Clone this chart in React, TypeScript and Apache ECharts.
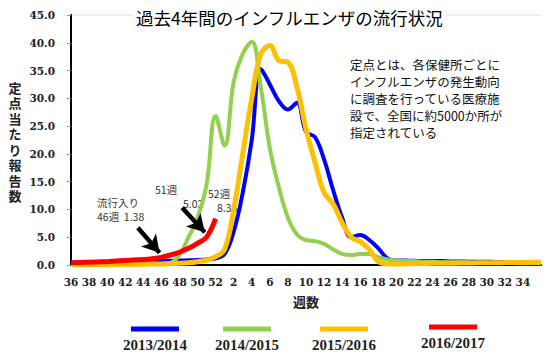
import React, { useEffect, useRef } from 'react';
import * as echarts from 'echarts';

const weeks = [
  '36', '37', '38', '39', '40', '41', '42', '43', '44', '45', '46', '47', '48', '49', '50', '51', '52',
  '1', '2', '3', '4', '5', '6', '7', '8', '9', '10', '11', '12', '13', '14', '15', '16', '17', '18', '19',
  '20', '21', '22', '23', '24', '25', '26', '27', '28', '29', '30', '31', '32', '33', '34', '35', '36',
];

const season1314 = [
  0.3, 0.3, 0.35, 0.4, 0.4, 0.45, 0.5, 0.55, 0.6, 0.65, 0.7, 0.75, 0.8, 0.85, 0.9, 1.0, 1.2,
  2.0, 6.0, 13.0, 22.5, 35.3, 32.5, 29.5, 28.0, 29.2, 24.0, 23.0, 19.0, 13.5, 8.5, 5.0, 5.4, 4.5, 3.0, 1.2,
  0.8, 0.8, 0.75, 0.7, 0.7, 0.7, 0.65, 0.65, 0.6, 0.6, 0.6, 0.55, 0.55, 0.5, 0.5, 0.5, 0.5,
];

const season1415 = [
  0.1, 0.1, 0.1, 0.1, 0.1, 0.1, 0.15, 0.15, 0.15, 0.2, 0.2, 0.4, 1.8, 5.0, 8.5, 14.5, 26.8,
  21.5, 33.0, 38.0, 40.2, 32.0, 21.0, 14.0, 8.5, 5.5, 4.5, 4.3, 3.8, 2.8, 2.0, 1.8, 2.0, 2.0, 1.4, 1.0,
  0.8, 0.7, 0.7, 0.6, 0.6, 0.5, 0.5, 0.5, 0.45, 0.4, 0.4, 0.4, 0.35, 0.35, 0.3, 0.3, 0.3,
];

const season1516 = [
  0.1, 0.1, 0.1, 0.1, 0.1, 0.1, 0.1, 0.15, 0.15, 0.2, 0.2, 0.25, 0.3, 0.4, 0.6, 0.9, 1.5,
  2.8, 10.0, 20.0, 30.0, 38.0, 39.5, 36.8, 36.5, 32.0, 24.5, 18.5, 13.0, 11.0, 7.6, 5.0, 4.2, 2.8, 0.6, 0.2,
  0.2, 0.2, 0.25, 0.25, 0.3, 0.3, 0.3, 0.35, 0.35, 0.4, 0.4, 0.4, 0.45, 0.45, 0.45, 0.5, 0.5,
];

const season1617 = [
  0.4, 0.45, 0.5, 0.55, 0.6, 0.7, 0.8, 0.9, 1.0, 1.15, 1.38, 1.8, 2.3, 3.0, 3.9, 5.02, 8.35,
];

const seriesNames = ['2013/2014', '2014/2015', '2015/2016', '2016/2017'];
const seriesColors = ['#0000ff', '#92d050', '#ffc000', '#ff0000'];
const seriesWidths = [4, 4, 5, 5];

const titleText = '過去4年間のインフルエンザの流行状況';
const yAxisName = '定点当たり報告数';
const xAxisName = '週数';
const noteText = '定点とは、各保健所ごとに\nインフルエンザの発生動向\nに調査を行っている医療施\n設で、全国に約5000か所が\n指定されている';

// arrows: [fromIndex, fromValue, toIndex, toValue]
const arrows = [
  [7.4, 6.7, 9.8, 2.2],
  [12.3, 10.3, 14.8, 5.9],
];

const serifFont = '"DejaVu Serif", "Liberation Serif", serif';
const sansFont = '"Noto Sans CJK JP", "Noto Sans", sans-serif';

export default function App() {
  const ref = useRef<HTMLDivElement>(null);

  useEffect(() => {
    const chart = echarts.init(ref.current!, null, { renderer: 'svg' });
    const allData = [season1314, season1415, season1516, season1617];

    const lineSeries = allData.map((d, i) => ({
      name: seriesNames[i],
      type: 'line',
      data: d,
      smooth: 0.4,
      symbol: 'none',
      lineStyle: { color: seriesColors[i], width: seriesWidths[i] },
      itemStyle: { color: seriesColors[i] },
      z: 2 + i,
    }));

    const legendX = [155, 247, 344, 453];
    const legendGraphics: any[] = [];
    seriesNames.forEach((n, i) => {
      const ly = i === 3 ? 327 : 329;
      legendGraphics.push({
        type: 'line',
        shape: { x1: legendX[i] - 24, y1: ly, x2: legendX[i] + 24, y2: ly },
        style: { stroke: seriesColors[i], lineWidth: 5 },
      });
      legendGraphics.push({
        type: 'text',
        x: legendX[i],
        y: ly + 16,
        style: {
          text: n,
          fontSize: 15,
          fontWeight: 'bold',
          fontFamily: '"Liberation Serif", serif',
          fill: '#222',
          align: 'center',
          verticalAlign: 'middle',
          textAlign: 'center',
          textVerticalAlign: 'middle',
        },
      });
    });

    const annot = (text: string, x: number, y: number) => ({
      type: 'text',
      x,
      y,
      style: {
        text,
        fontSize: 10.5,
        fontFamily: sansFont,
        fill: '#333',
        align: 'left',
        verticalAlign: 'middle',
        textAlign: 'left',
        textVerticalAlign: 'middle',
      },
    });

    // vertical (stacked) y-axis title, one character per text element
    const yNameGraphics = yAxisName.split('').map((ch, k) => ({
      type: 'text',
      x: 15,
      y: 87 + k * 15.5,
      style: {
        text: ch,
        fontSize: 13,
        fontWeight: 'bold',
        fontFamily: sansFont,
        fill: '#222',
        align: 'center',
        verticalAlign: 'middle',
        textAlign: 'center',
        textVerticalAlign: 'middle',
      },
    }));

    const splitColors = Array.from({ length: 10 }, (_, k) => (k === 9 ? '#e8e8e8' : 'rgba(0,0,0,0)'));

    const option: any = {
      animation: false,
      backgroundColor: '#fff',
      title: {
        text: titleText,
        left: 133,
        top: 6,
        padding: [0, 3],
        backgroundColor: '#fff',
        textStyle: { fontSize: 17.5, fontWeight: 'normal', color: '#000', fontFamily: sansFont, lineHeight: 22 },
      },
      grid: { left: 71, right: 9, top: 15, bottom: 91, containLabel: false },
      xAxis: [
        {
          type: 'category',
          data: weeks,
          boundaryGap: false,
          name: xAxisName,
          nameLocation: 'middle',
          nameGap: 30,
          nameTextStyle: { fontSize: 13, fontWeight: 'bold', color: '#222', fontFamily: sansFont },
          axisLine: { lineStyle: { color: '#000', width: 2 } },
          axisTick: { show: false },
          axisLabel: {
            interval: (idx: number) => idx % 2 === 0 && idx < 52,
            fontFamily: serifFont,
            fontWeight: 'bold',
            fontSize: 10.5,
            color: '#222',
            margin: 11,
          },
          splitLine: { show: false },
        },
        {
          type: 'value',
          min: 0,
          max: 52,
          show: false,
          gridIndex: 0,
        },
      ],
      yAxis: {
        type: 'value',
        min: 0,
        max: 45,
        interval: 5,
        axisLine: { show: true, lineStyle: { color: '#000', width: 2 } },
        axisTick: { show: true, length: 4, lineStyle: { color: '#999' } },
        axisLabel: {
          formatter: (v: number) => v.toFixed(1),
          fontFamily: serifFont,
          fontWeight: 'bold',
          fontSize: 10.5,
          color: '#222',
          margin: 16,
        },
        splitLine: { show: true, lineStyle: { color: splitColors, width: 1.5 } },
      },
      series: [
        ...lineSeries,
        {
          name: 'arrows',
          type: 'line',
          xAxisIndex: 1,
          yAxisIndex: 0,
          data: [],
          silent: true,
          z: 10,
          markLine: {
            silent: true,
            animation: false,
            symbol: ['none', 'arrow'],
            symbolSize: [15, 17],
            lineStyle: { color: '#000', width: 4.5, type: 'solid' },
            label: { show: false },
            emphasis: { disabled: true },
            data: arrows.map((a) => [{ coord: [a[0], a[1]] }, { coord: [a[2], a[3]] }]),
          },
        },
      ],
      graphic: [
        {
          type: 'text',
          left: 350,
          top: 56,
          style: {
            text: noteText,
            fontSize: 12.5,
            lineHeight: 17,
            fontFamily: sansFont,
            fill: '#111',
          },
        },
        annot('流行入り', 97, 202),
        annot('46週  1.38', 97, 216),
        annot('51週', 155, 189),
        annot('5.02', 183, 203),
        annot('52週', 208, 193),
        annot('8.35', 217, 207),
        ...yNameGraphics,
        ...legendGraphics,
      ],
    };

    chart.setOption(option);
    return () => chart.dispose();
  }, []);

  return <div ref={ref} style={{ position: 'fixed', left: 0, top: 0, width: 550, height: 356 }} />;
}
